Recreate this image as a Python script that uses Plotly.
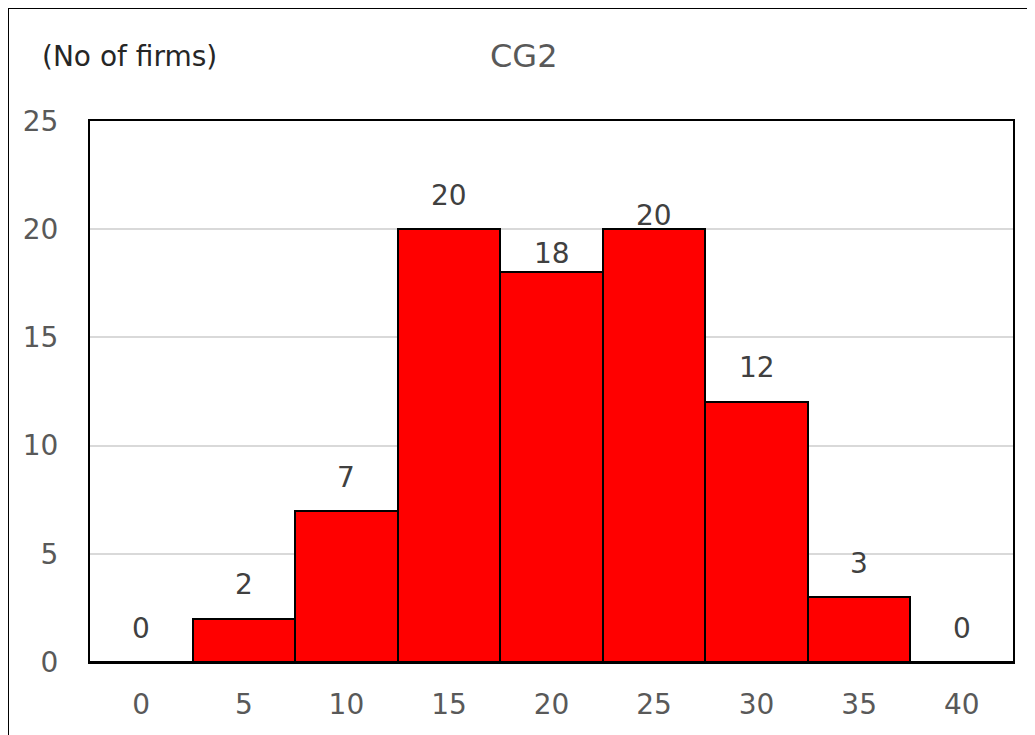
import plotly.graph_objects as go

categories = ["0", "5", "10", "15", "20", "25", "30", "35", "40"]
firms = [0, 2, 7, 20, 18, 20, 12, 3, 0]
y_ticks = [0, 5, 10, 15, 20, 25]

# label vertical offsets (px above bar top) - style only
label_offsets = [34, 34, 33, 34, 19, 14, 35, 34, 34]

FONT = "DejaVu Sans"
GRAY = "#595959"

# page body has an 8px margin, so the figure is sized to fit the window
W, H = 1027, 727
ML, MR, MT, MB = 82, 22, 113, 73
PW = W - ML - MR
PH = H - MT - MB

fig = go.Figure()
fig.add_trace(go.Bar(
    x=categories, y=firms,
    marker=dict(color="#ff0000", line=dict(color="black", width=2)),
    hoverinfo="x+y",
))

annotations = []
for i, (v, off) in enumerate(zip(firms, label_offsets)):
    annotations.append(dict(
        x=i, y=v, xref="x", yref="y", text=str(v), showarrow=False,
        yshift=off, yanchor="middle",
        font=dict(family=FONT, size=28, color="#404040"),
    ))

annotations.append(dict(
    x=(32 - ML) / PW, y=1 + (MT - 48) / PH, xref="paper", yref="paper",
    text="(No of firms)", showarrow=False, xanchor="left", yanchor="middle",
    font=dict(family=FONT, size=28, color="#262626"),
))
annotations.append(dict(
    x=(516 - ML) / PW, y=1 + (MT - 48) / PH, xref="paper", yref="paper",
    text="CG2", showarrow=False, xanchor="center", yanchor="middle",
    font=dict(family=FONT, size=32, color=GRAY),
))

fig.update_layout(
    width=W, height=H,
    margin=dict(l=ML, r=MR, t=MT, b=MB, autoexpand=False),
    paper_bgcolor="white", plot_bgcolor="white",
    bargap=0,
    showlegend=False,
    annotations=annotations,
    shapes=[dict(type="rect", xref="paper", yref="paper",
                 x0=(0 - ML) / PW, x1=1.2, y0=-0.3, y1=1 + (MT - 0) / PH,
                 line=dict(color="black", width=2), fillcolor="rgba(0,0,0,0)",
                 layer="above")],
    xaxis=dict(
        type="category", range=[-0.5, len(categories) - 0.5],
        showline=True, linecolor="black", linewidth=2,
        mirror=True, showgrid=False, ticks="", ticklabelstandoff=16,
        tickfont=dict(family=FONT, size=28, color=GRAY),
    ),
    yaxis=dict(
        range=[0, 25], tickvals=y_ticks, showline=True, linecolor="black",
        linewidth=2, mirror=True, showgrid=True, gridcolor="#d9d9d9",
        gridwidth=2, zeroline=False, ticks="", ticklabelstandoff=24,
        tickfont=dict(family=FONT, size=28, color=GRAY),
    ),
)

fig.write_html("out.html")
